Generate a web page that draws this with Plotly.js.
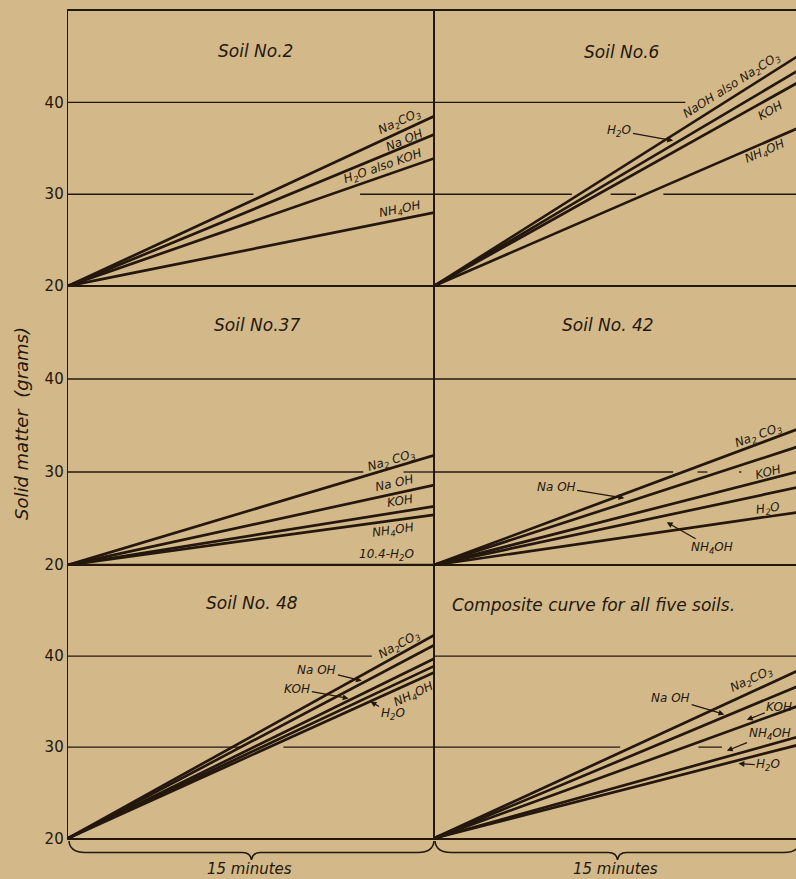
<!DOCTYPE html>
<html>
<head>
<meta charset="utf-8">
<script src="https://cdn.plot.ly/plotly-3.0.1.min.js"></script>
<style>
  html, body { margin: 0; padding: 0; background: #d3b98a; }
  #chart { width: 796px; height: 879px; }
</style>
</head>
<body>
<div id="chart"></div>
<script>
// ---------------- DATA ----------------
const minutes = [0, 15];
const panelTitles = ["Soil No.2", "Soil No.6", "Soil No.37", "Soil No. 42", "Soil No. 48", "Composite curve for all five soils."];

// Soil No.2
const soil2Names  = ["Na2CO3", "NaOH", "H2O also KOH", "NH4OH"];
const soil2Na2CO3 = [20, 38.5];
const soil2NaOH   = [20, 36.5];
const soil2H2OKOH = [20, 33.9];
const soil2NH4OH  = [20, 28.0];

// Soil No.6
const soil6Names   = ["NaOH also Na2CO3", "H2O", "KOH", "NH4OH"];
const soil6NaOHNa2 = [20, 45.2];
const soil6H2O     = [20, 43.6];
const soil6KOH     = [20, 42.3];
const soil6NH4OH   = [20, 37.3];

// Soil No.37
const soil37Names  = ["Na2CO3", "NaOH", "KOH", "NH4OH", "H2O (10.4)"];
const soil37Na2CO3 = [20, 31.8];
const soil37NaOH   = [20, 28.6];
const soil37KOH    = [20, 26.3];
const soil37NH4OH  = [20, 25.4];
const soil37H2O    = [20, 20.0];

// Soil No.42
const soil42Names  = ["Na2CO3", "NaOH", "KOH", "NH4OH", "H2O"];
const soil42Na2CO3 = [20, 34.7];
const soil42NaOH   = [20, 32.8];
const soil42KOH    = [20, 30.1];
const soil42NH4OH  = [20, 28.4];
const soil42H2O    = [20, 25.7];

// Soil No.48
const soil48Names  = ["Na2CO3", "NaOH", "KOH", "NH4OH", "H2O"];
const soil48Na2CO3 = [20, 42.3];
const soil48NaOH   = [20, 41.2];
const soil48KOH    = [20, 39.7];
const soil48NH4OH  = [20, 38.9];
const soil48H2O    = [20, 38.2];

// Composite
const compNames  = ["Na2CO3", "NaOH", "KOH", "NH4OH", "H2O"];
const compNa2CO3 = [20, 38.5];
const compNaOH   = [20, 36.8];
const compKOH    = [20, 34.6];
const compNH4OH  = [20, 31.2];
const compH2O    = [20, 30.3];

const yTickVals = [20, 30, 40];
const yTickText = ["20", "30", "40"];
const xSpanLabel = "15 minutes";
const yTitle = "Solid matter  (grams)";

// ---------------- LAYOUT HELPERS ----------------
const W = 796, H = 879;
const INK = "#24170d";
const BG = "#d3b98a";
const FONT = "DejaVu Sans, sans-serif";
const px = p => p / W;
const py = p => 1 - p / H;
const colPx = [[68, 434], [434, 800]];
const rowPx = [[10.7, 286], [286, 565], [565, 838.3]];

const panels = [
  {names: soil2Names,  ys: [soil2Na2CO3, soil2NaOH, soil2H2OKOH, soil2NH4OH]},
  {names: soil6Names,  ys: [soil6NaOHNa2, soil6H2O, soil6KOH, soil6NH4OH]},
  {names: soil37Names, ys: [soil37Na2CO3, soil37NaOH, soil37KOH, soil37NH4OH, soil37H2O]},
  {names: soil42Names, ys: [soil42Na2CO3, soil42NaOH, soil42KOH, soil42NH4OH, soil42H2O]},
  {names: soil48Names, ys: [soil48Na2CO3, soil48NaOH, soil48KOH, soil48NH4OH, soil48H2O]},
  {names: compNames,   ys: [compNa2CO3, compNaOH, compKOH, compNH4OH, compH2O]}
];

// label placement (styling): [text, x, y, seriesIndexForAngle | null, arrowHeadX, arrowHeadY]
const labels = [
  [
    ["Na<sub>2</sub>CO<sub>3</sub>", 13.6, 37.9, 0],
    ["Na OH", 13.8, 35.9, 1],
    ["H<sub>2</sub>O also KOH", 12.9, 33.0, 2],
    ["NH<sub>4</sub>OH", 13.6, 28.3, 3]
  ],
  [
    ["NaOH also Na<sub>2</sub>CO<sub>3</sub>", 12.2, 41.8, 0],
    ["H<sub>2</sub>O", 7.6, 36.9, null, 9.8, 35.85],
    ["KOH", 13.75, 39.1, 2],
    ["NH<sub>4</sub>OH", 13.55, 34.6, 3]
  ],
  [
    ["Na<sub>2</sub> CO<sub>3</sub>", 13.27, 31.2, 0],
    ["Na OH", 13.4, 28.8, 1],
    ["KOH", 13.6, 26.9, 2],
    ["NH<sub>4</sub>OH", 13.3, 23.7, 3],
    ["10.4-H<sub>2</sub>O", 13.06, 21.1, 4]
  ],
  [
    ["Na<sub>2</sub> CO<sub>3</sub>", 13.3, 33.9, 0],
    ["Na OH", 5.0, 28.4, null, 7.8, 27.2],
    ["KOH", 13.7, 30.0, 2],
    ["H<sub>2</sub>O", 13.7, 26.05, 4],
    ["NH<sub>4</sub>OH", 11.4, 21.8, null, 9.54, 24.6]
  ],
  [
    ["Na<sub>2</sub>CO<sub>3</sub>", 13.6, 41.2, 0],
    ["Na OH", 10.2, 38.5, null, 12.04, 37.3],
    ["KOH", 9.4, 36.4, null, 11.5, 35.35],
    ["NH<sub>4</sub>OH", 14.16, 35.7, 3],
    ["H<sub>2</sub>O", 13.3, 33.6, null, 12.4, 35.0]
  ],
  [
    ["Na<sub>2</sub>CO<sub>3</sub>", 13.0, 37.4, 0],
    ["Na OH", 9.7, 35.35, null, 11.9, 33.6],
    ["KOH", 14.15, 34.4, null, 12.82, 33.0],
    ["NH<sub>4</sub>OH", 13.75, 31.5, null, 12.0, 29.6],
    ["H<sub>2</sub>O", 13.7, 28.0, null, 12.48, 28.2]
  ]
];

// partial drafting grid lines (styling): [y, x0, x1]
const gridSegs = [
  [[40, 0, 15], [30, 0, 7.6], [30, 11.97, 15]],
  [[40, 0, 10.3], [30, 0, 5.65], [30, 7.24, 8.28], [30, 9.4, 15]],
  [[40, 0, 15], [30, 0, 12.1], [30, 13.75, 15]],
  [[40, 0, 15], [30, 0, 9.8], [30, 10.8, 11.2], [30, 12.5, 12.6]],
  [[40, 0, 12.45], [30, 0, 7.05], [30, 8.83, 15]],
  [[40, 0, 15], [30, 0, 7.63], [30, 10.84, 11.8]]
];

const titlePos = [
  [7.67, 45.6, "center"], [7.7, 45.5, "center"], [7.74, 45.8, "center"],
  [7.15, 45.8, "center"], [7.53, 45.8, "center"], [0.65, 45.66, "left"]
];

// ---------------- BUILD ----------------
const traces = [];
const shapes = [];
const annotations = [];
const layout = {
  width: W, height: H,
  margin: {l: 0, r: 0, t: 0, b: 0},
  paper_bgcolor: BG, plot_bgcolor: "rgba(0,0,0,0)",
  showlegend: false,
  font: {family: FONT, color: INK}
};

const rightRangeMax = 15 * (W - 434) / 366;

panels.forEach((p, i) => {
  const n = i + 1;
  const xa = n === 1 ? "x" : "x" + n;
  const ya = n === 1 ? "y" : "y" + n;
  const col = i % 2, row = Math.floor(i / 2);
  const cx = colPx[col], ry = rowPx[row];
  const xMax = col === 0 ? 15 : rightRangeMax;
  layout[n === 1 ? "xaxis" : "xaxis" + n] = {
    domain: [px(cx[0]), col === 0 ? px(cx[1]) : 1],
    range: [0, xMax], anchor: ya,
    showgrid: false, zeroline: false, showticklabels: false, ticks: "",
    showline: true, mirror: true, linecolor: INK, linewidth: 1.3
  };
  layout[n === 1 ? "yaxis" : "yaxis" + n] = {
    domain: [py(ry[1]), py(ry[0])],
    range: [20, 50], anchor: xa,
    showgrid: false, zeroline: false, ticks: "",
    tickvals: yTickVals, ticktext: yTickText,
    showticklabels: col === 0,
    tickfont: {family: FONT, size: 15, color: INK},
    showline: true, mirror: true, linecolor: INK, linewidth: 1.3
  };
  p.ys.forEach((ys, k) => {
    traces.push({
      x: minutes, y: ys, xaxis: xa, yaxis: ya, name: p.names[k],
      mode: "lines", line: {color: INK, width: 2.7}, hoverinfo: "name+y"
    });
  });
  gridSegs[i].forEach(s => {
    shapes.push({type: "line", xref: xa, yref: ya, x0: s[1], x1: s[2], y0: s[0], y1: s[0],
      line: {color: INK, width: 1.3}, layer: "below"});
  });
  // panel title
  const tp = titlePos[i];
  annotations.push({
    xref: xa, yref: ya, x: tp[0], y: tp[1], xanchor: tp[2], yanchor: "middle",
    text: "<i>" + panelTitles[i] + "</i>", showarrow: false,
    font: {family: FONT, size: 17, color: INK}
  });
  // line labels
  const pxPerMin = 366 / 15;
  const pxPerUnit = (ry[1] - ry[0]) / 30;
  labels[i].forEach(L => {
    const ann = {
      xref: xa, yref: ya, text: "<i>" + L[0] + "</i>",
      font: {family: FONT, size: 12, color: INK}
    };
    if (L[3] !== null && L[3] !== undefined) {
      const ys = p.ys[L[3]];
      const slope = (ys[1] - ys[0]) * pxPerUnit / ((minutes[1] - minutes[0]) * pxPerMin);
      ann.textangle = -Math.atan(slope) * 180 / Math.PI;
      ann.x = L[1]; ann.y = L[2]; ann.showarrow = false;
    } else {
      ann.x = L[4]; ann.y = L[5];
      ann.axref = xa; ann.ayref = ya; ann.ax = L[1]; ann.ay = L[2];
      ann.showarrow = true; ann.arrowhead = 2; ann.arrowsize = 0.9;
      ann.arrowwidth = 1.3; ann.arrowcolor = INK; ann.standoff = 0;
    }
    annotations.push(ann);
  });
});

// braces and "15 minutes"
function brace(x0, x1) {
  const top = 841, mid = 852.5, tip = 860;
  const xm = (x0 + x1) / 2;
  const P = (a, b) => px(a).toFixed(5) + "," + py(b).toFixed(5);
  return "M" + P(x0, top) + " Q" + P(x0 + 1, mid) + " " + P(x0 + 16, mid) +
    " L" + P(xm - 9, mid) + " Q" + P(xm - 1, mid) + " " + P(xm, tip) +
    " Q" + P(xm + 1, mid) + " " + P(xm + 9, mid) +
    " L" + P(x1 - 16, mid) + " Q" + P(x1 - 1, mid) + " " + P(x1, top);
}
[[69, 434], [435, 800]].forEach(c => {
  shapes.push({type: "path", xref: "paper", yref: "paper", path: brace(c[0], c[1]),
    line: {color: INK, width: 1.6}});
  annotations.push({xref: "paper", yref: "paper", x: px((c[0] + c[1]) / 2 - 2), y: py(869),
    xanchor: "center", yanchor: "middle", showarrow: false,
    text: "<i>" + xSpanLabel + "</i>", font: {family: FONT, size: 15, color: INK}});
});

// y title
annotations.push({xref: "paper", yref: "paper", x: px(21), y: py(424),
  xanchor: "center", yanchor: "middle", showarrow: false, textangle: -90,
  text: "<i>" + yTitle + "</i>", font: {family: FONT, size: 18, color: INK}});

layout.shapes = shapes;
layout.annotations = annotations;

Plotly.newPlot("chart", traces, layout, {displayModeBar: false, staticPlot: true});
</script>
</body>
</html>
